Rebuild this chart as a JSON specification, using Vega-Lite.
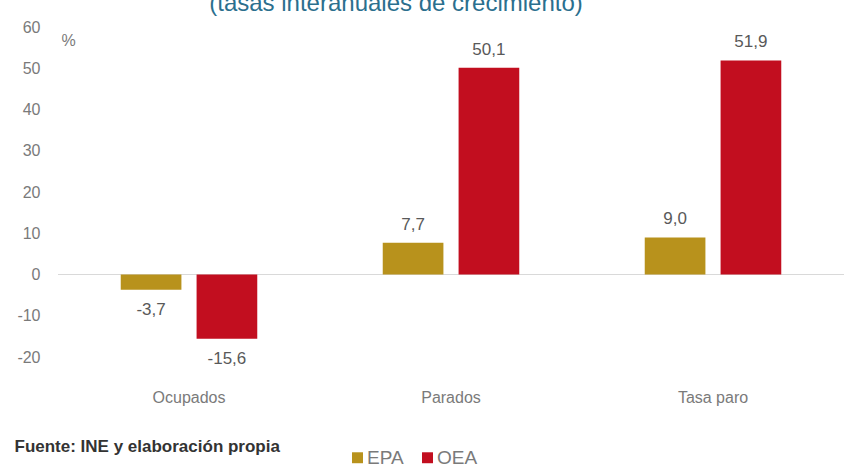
{
  "$schema": "https://vega.github.io/schema/vega-lite/v6.json",
  "autosize": "none",
  "width": 786,
  "height": 330,
  "padding": {"left": 58, "top": 27, "right": 0, "bottom": 107},
  "background": "white",
  "title": {
    "text": "(tasas interanuales de crecimiento)",
    "orient": "top",
    "anchor": "middle",
    "dx": -55,
    "dy": 22,
    "baseline": "alphabetic",
    "offset": 6,
    "font": "Liberation Sans",
    "fontSize": 24,
    "fontWeight": "normal",
    "color": "#2b6f8e"
  },
  "config": {
    "locale": {"number": {"decimal": ",", "thousands": ".", "grouping": [3], "currency": ["", " €"], "minus": "-"}},
    "view": {"stroke": null},
    "font": "Liberation Sans"
  },
  "data": {
    "values": [
      {"categoria": "Ocupados", "serie": "EPA", "valor": -3.7},
      {"categoria": "Ocupados", "serie": "OEA", "valor": -15.6},
      {"categoria": "Parados", "serie": "EPA", "valor": 7.7},
      {"categoria": "Parados", "serie": "OEA", "valor": 50.1},
      {"categoria": "Tasa paro", "serie": "EPA", "valor": 9.0},
      {"categoria": "Tasa paro", "serie": "OEA", "valor": 51.9}
    ]
  },
  "encoding": {
    "x": {
      "field": "categoria",
      "type": "nominal",
      "sort": null,
      "scale": {"paddingInner": 0.45, "paddingOuter": 0.225},
      "axis": {
        "orient": "bottom",
        "domain": false,
        "ticks": false,
        "labelAngle": 0,
        "labelPadding": 32,
        "labelFontSize": 16,
        "labelColor": "#7a7a7a",
        "title": "Fuente: INE y elaboración propia",
        "titleX": -44,
        "titleY": 89,
        "titleAlign": "left",
        "titleBaseline": "middle",
        "titleFontSize": 17,
        "titleFontWeight": "bold",
        "titleColor": "#333333"
      }
    },
    "xOffset": {
      "field": "serie",
      "type": "nominal",
      "scale": {"paddingInner": 0.2, "paddingOuter": 0.05}
    },
    "y": {
      "field": "valor",
      "type": "quantitative",
      "scale": {"domain": [-20, 60], "nice": false},
      "axis": {
        "values": [-20, -10, 0, 10, 20, 30, 40, 50, 60],
        "domain": false,
        "ticks": false,
        "grid": false,
        "labelPadding": 18,
        "labelFontSize": 16,
        "labelColor": "#7a7a7a",
        "title": "%",
        "titleAngle": 0,
        "titleX": 3,
        "titleY": 13,
        "titleAlign": "left",
        "titleBaseline": "middle",
        "titleFontSize": 16,
        "titleFontWeight": "normal",
        "titleColor": "#7a7a7a"
      }
    }
  },
  "layer": [
    {
      "mark": {"type": "rule", "color": "#d9d9d9", "strokeWidth": 1},
      "encoding": {"y": {"datum": 0}, "x": null, "xOffset": null}
    },
    {
      "mark": {"type": "bar"},
      "encoding": {
        "color": {
          "field": "serie",
          "type": "nominal",
          "scale": {"domain": ["EPA", "OEA"], "range": ["#b8921c", "#c20e1f"]},
          "legend": {
            "title": null,
            "orient": "none",
            "direction": "horizontal",
            "legendX": 290,
            "legendY": 421,
            "symbolType": "square",
            "symbolSize": 120,
            "symbolStrokeWidth": 0,
            "labelFontSize": 19,
            "labelColor": "#7a7a7a",
            "labelOffset": 0,
            "columnPadding": 14
          }
        }
      }
    },
    {
      "transform": [{"filter": "datum.valor >= 0"}],
      "mark": {"type": "text", "baseline": "bottom", "dy": -9, "fontSize": 17, "color": "#595959"},
      "encoding": {"text": {"field": "valor", "type": "quantitative", "format": ".1f"}}
    },
    {
      "transform": [{"filter": "datum.valor < 0"}],
      "mark": {"type": "text", "baseline": "top", "dy": 12, "fontSize": 17, "color": "#595959"},
      "encoding": {"text": {"field": "valor", "type": "quantitative", "format": ".1f"}}
    }
  ]
}
